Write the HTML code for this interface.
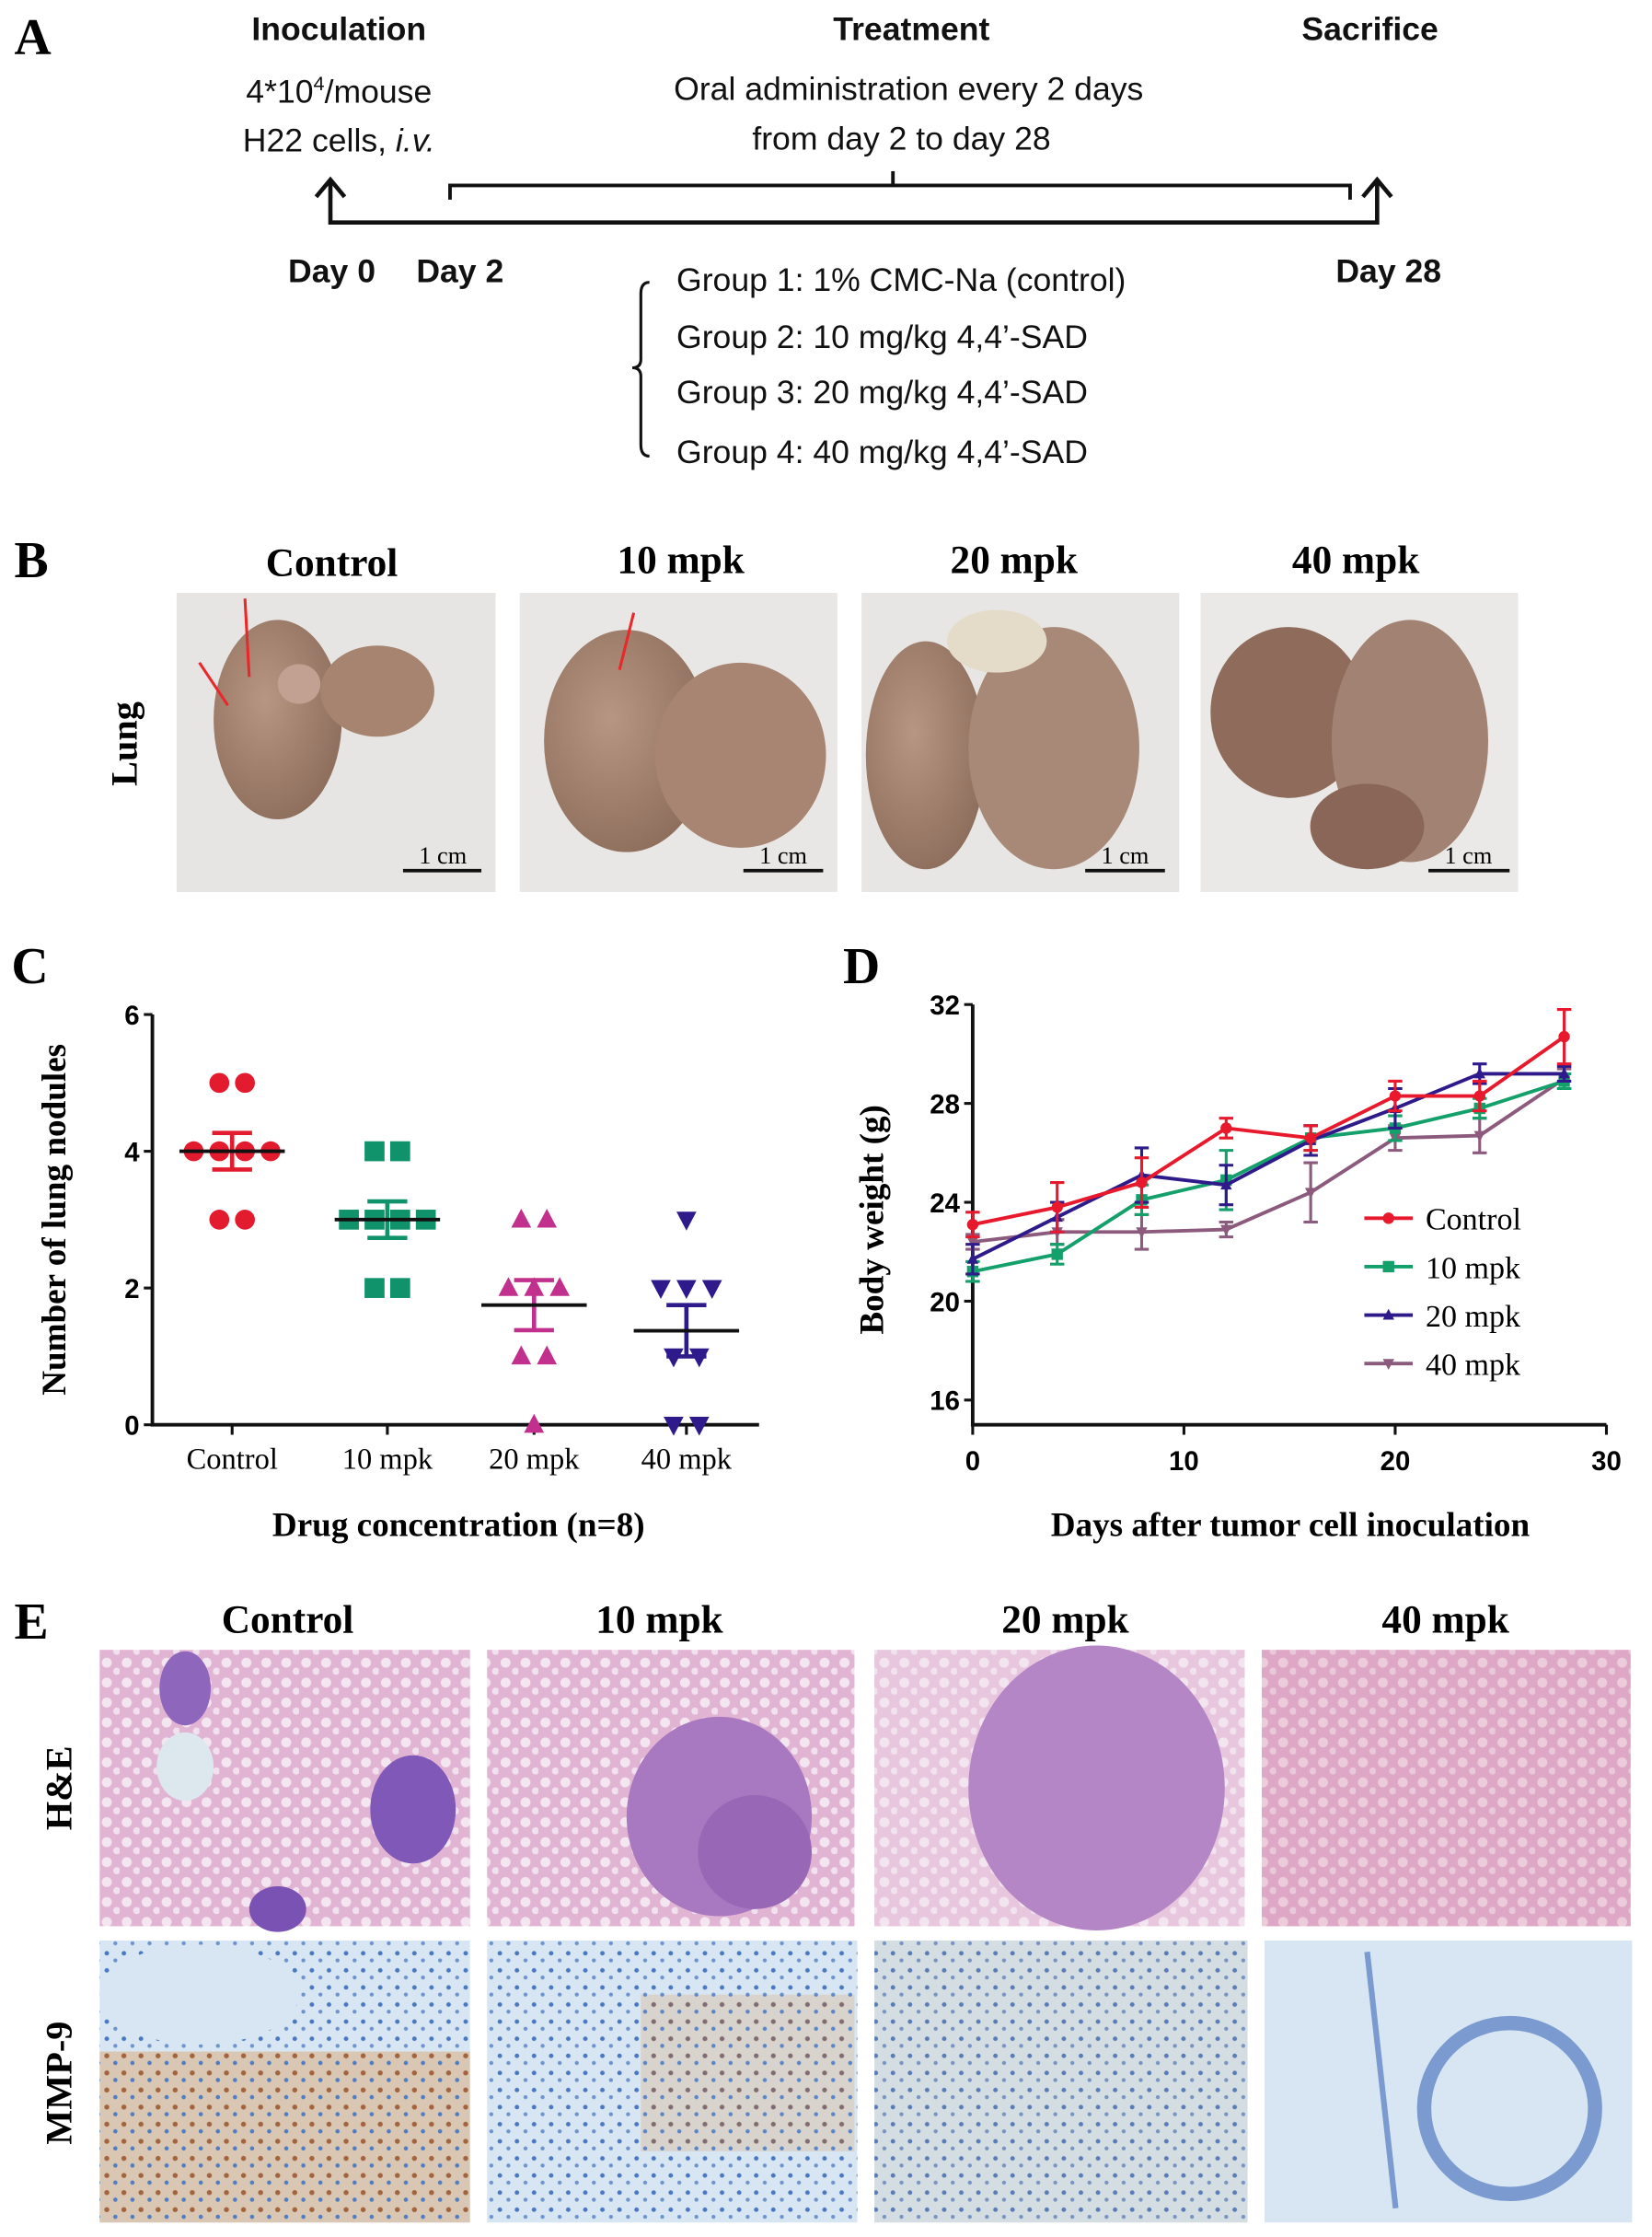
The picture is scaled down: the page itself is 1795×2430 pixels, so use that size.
<!DOCTYPE html>
<html><head><meta charset="utf-8"><style>
html,body{margin:0;padding:0;background:#fff}
svg{display:block}
.sans{font-family:"Liberation Sans","DejaVu Sans",sans-serif}
.serif{font-family:"Liberation Serif",serif}
</style></head><body>
<svg id="fig" width="1795" height="2430" viewBox="0 0 1160 1570" xmlns="http://www.w3.org/2000/svg">
<defs>
<radialGradient id="lungg" cx="0.4" cy="0.4" r="0.7"><stop offset="0" stop-color="#b89684"/><stop offset="1" stop-color="#8a6a58"/></radialGradient>
<pattern id="he" width="14" height="14" patternUnits="userSpaceOnUse"><rect width="14" height="14" fill="#e2b4d4"/><circle cx="5" cy="5" r="3.5" fill="#f4e6f0"/><circle cx="12" cy="11" r="2.5" fill="#f1e1ee"/></pattern>
<pattern id="mmp" width="12" height="12" patternUnits="userSpaceOnUse"><rect width="12" height="12" fill="#d7e6f2"/><circle cx="3" cy="3" r="1.6" fill="#4a78c0"/><circle cx="9" cy="8" r="1.4" fill="#6d92cc"/></pattern>
<pattern id="mmpb" width="12" height="12" patternUnits="userSpaceOnUse"><rect width="12" height="12" fill="#d9c2a8"/><circle cx="3" cy="3" r="1.8" fill="#b0602a"/><circle cx="9" cy="8" r="1.5" fill="#4a78c0"/></pattern>
</defs>

<!-- Panel A -->
<g>
<text x="10" y="38" class="serif" font-size="36" font-weight="bold">A</text>
<g class="sans" font-size="23" text-anchor="middle" fill="#111">
<text x="238" y="28" font-weight="bold">Inoculation</text>
<text x="238" y="72">4*10<tspan font-size="14" dy="-9">4</tspan><tspan dy="9">/mouse</tspan></text>
<text x="238" y="106">H22 cells, <tspan font-style="italic">i.v.</tspan></text>
<text x="640" y="28" font-weight="bold">Treatment</text>
<text x="638" y="70">Oral administration every 2 days</text>
<text x="633" y="105">from day 2 to day 28</text>
<text x="962" y="28" font-weight="bold">Sacrifice</text>
<text x="233" y="198" font-weight="bold">Day  0</text>
<text x="323" y="198" font-weight="bold">Day  2</text>
<text x="975" y="198" font-weight="bold">Day  28</text>
</g>
<g stroke="#111" stroke-width="3" fill="none">
<polyline points="232,127 232,156 967,156 967,127"/>
<polyline points="222,138 232,126 242,138"/>
<polyline points="957,138 967,126 977,138"/>
<polyline points="316,140 316,130 948,130 948,140" stroke-width="2.5"/>
<line x1="627" y1="130" x2="627" y2="120" stroke-width="2.5"/>
<path d="M456,198 Q450,198 450,206 L450,252 Q450,258 444,258 Q450,258 450,264 L450,312 Q450,320 456,320" stroke-width="2"/>
</g>
<g class="sans" font-size="23" fill="#111">
<text x="475" y="204">Group 1: 1% CMC-Na (control)</text>
<text x="475" y="244">Group 2: 10 mg/kg 4,4’-SAD</text>
<text x="475" y="283">Group 3: 20 mg/kg 4,4’-SAD</text>
<text x="475" y="325">Group 4: 40 mg/kg 4,4’-SAD</text>
</g>
</g>

<!-- Panel B -->
<g>
<text x="10" y="405" class="serif" font-size="36" font-weight="bold">B</text>
<g class="serif" font-size="28" font-weight="bold" text-anchor="middle">
<text x="233" y="404">Control</text>
<text x="478" y="402">10 mpk</text>
<text x="712" y="402">20 mpk</text>
<text x="952" y="402">40 mpk</text>
</g>
<text transform="translate(96,522) rotate(-90)" class="serif" font-size="26" font-weight="bold" text-anchor="middle">Lung</text>
<g><rect x="124" y="416" width="224" height="210" fill="#e7e5e3"/><ellipse cx="195" cy="505" rx="45" ry="70" fill="url(#lungg)"/><ellipse cx="265" cy="485" rx="40" ry="32" fill="#a68470"/><ellipse cx="210" cy="480" rx="15" ry="14" fill="#c3a192"/><line x1="172" y1="420" x2="175" y2="475" stroke="#e8282a" stroke-width="2"/><line x1="140" y1="465" x2="160" y2="495" stroke="#e8282a" stroke-width="2"/></g>
<g><rect x="365" y="416" width="223" height="210" fill="#e9e7e5"/><ellipse cx="440" cy="520" rx="58" ry="78" fill="url(#lungg)"/><ellipse cx="520" cy="530" rx="60" ry="65" fill="#a88572"/><line x1="445" y1="430" x2="435" y2="470" stroke="#e8282a" stroke-width="2"/></g>
<g><rect x="605" y="416" width="223" height="210" fill="#e8e6e4"/><ellipse cx="650" cy="530" rx="42" ry="80" fill="url(#lungg)"/><ellipse cx="740" cy="525" rx="60" ry="85" fill="#a88876"/><ellipse cx="700" cy="450" rx="35" ry="22" fill="#e4dcc8"/></g>
<g><rect x="843" y="416" width="223" height="210" fill="#ebe9e7"/><ellipse cx="905" cy="500" rx="55" ry="60" fill="#8e6b5a"/><ellipse cx="990" cy="520" rx="55" ry="85" fill="#a28272"/><ellipse cx="960" cy="580" rx="40" ry="30" fill="#8a6658"/></g>
<g stroke="#111" stroke-width="2.5">
<line x1="283" y1="611" x2="338" y2="611"/><line x1="522" y1="611" x2="578" y2="611"/><line x1="762" y1="611" x2="818" y2="611"/><line x1="1003" y1="611" x2="1060" y2="611"/>
</g>
<g class="serif" font-size="17" text-anchor="middle">
<text x="311" y="606">1 cm</text>
<text x="550" y="606">1 cm</text>
<text x="790" y="606">1 cm</text>
<text x="1031" y="606">1 cm</text>
</g>
</g>

<!-- Panel C -->
<g id="panelC">
<text x="8" y="690" class="serif" font-size="36" font-weight="bold">C</text>
<text transform="translate(46,856) rotate(-90)" class="serif" font-size="24" font-weight="bold" text-anchor="middle">Number of lung nodules</text>
<text x="322" y="1078" class="serif" font-size="24" font-weight="bold" text-anchor="middle">Drug concentration (n=8)</text>
</g>

<!-- Panel D -->
<g id="panelD">
<text x="592" y="690" class="serif" font-size="36" font-weight="bold">D</text>
<text transform="translate(620,856) rotate(-90)" class="serif" font-size="24" font-weight="bold" text-anchor="middle">Body weight (g)</text>
<text x="906" y="1078" class="serif" font-size="24" font-weight="bold" text-anchor="middle">Days after tumor cell inoculation</text>
</g>

<!-- Panel E -->
<g>
<text x="10" y="1150" class="serif" font-size="36" font-weight="bold">E</text>
<g class="serif" font-size="28" font-weight="bold" text-anchor="middle">
<text x="202" y="1146">Control</text>
<text x="463" y="1146">10 mpk</text>
<text x="748" y="1146">20 mpk</text>
<text x="1015" y="1146">40 mpk</text>
</g>
<text transform="translate(50,1255) rotate(-90)" class="serif" font-size="26" font-weight="bold" text-anchor="middle">H&amp;E</text>
<text transform="translate(50,1462) rotate(-90)" class="serif" font-size="26" font-weight="bold" text-anchor="middle">MMP-9</text>
<g><rect x="70" y="1158" width="260" height="194" fill="url(#he)"/><ellipse cx="290" cy="1270" rx="30" ry="38" fill="#7f58b8"/><ellipse cx="130" cy="1185" rx="18" ry="26" fill="#8e66bc"/><ellipse cx="195" cy="1340" rx="20" ry="16" fill="#7a52b4"/><ellipse cx="130" cy="1240" rx="20" ry="24" fill="#dce8ee"/></g>
<g><rect x="342" y="1158" width="258" height="194" fill="url(#he)"/><ellipse cx="505" cy="1275" rx="65" ry="70" fill="#a878c0"/><ellipse cx="530" cy="1300" rx="40" ry="40" fill="#9868b6"/></g>
<g><rect x="614" y="1158" width="260" height="194" fill="#f1e4ee"/><rect x="614" y="1158" width="260" height="194" fill="url(#he)" opacity="0.6"/><ellipse cx="770" cy="1255" rx="90" ry="100" fill="#b486c6"/></g>
<g><rect x="886" y="1158" width="259" height="194" fill="url(#he)"/><rect x="886" y="1158" width="259" height="194" fill="#d4809a" opacity="0.25"/></g>
<g><rect x="70" y="1362" width="260" height="198" fill="url(#mmp)"/><rect x="70" y="1440" width="260" height="120" fill="url(#mmpb)" opacity="0.85"/><ellipse cx="140" cy="1400" rx="70" ry="35" fill="#d7e6f2"/></g>
<g><rect x="342" y="1362" width="260" height="198" fill="url(#mmp)"/><rect x="450" y="1400" width="150" height="110" fill="url(#mmpb)" opacity="0.5"/></g>
<g><rect x="614" y="1362" width="262" height="198" fill="url(#mmp)"/><rect x="614" y="1362" width="262" height="198" fill="#c8a070" opacity="0.12"/></g>
<g><rect x="888" y="1362" width="258" height="198" fill="#d7e6f2"/><circle cx="1060" cy="1480" r="60" fill="none" stroke="#7a9ad0" stroke-width="10"/><line x1="960" y1="1370" x2="980" y2="1550" stroke="#7a9ad0" stroke-width="4"/></g>
</g>
</svg>
<script>
// ---- Panel C data ----
const cCategories = ["Control", "10 mpk", "20 mpk", "40 mpk"];
const cValsControl = [5, 5, 4, 4, 4, 4, 3, 3];
const cVals10 = [4, 4, 3, 3, 3, 3, 2, 2];
const cVals20 = [3, 3, 2, 2, 2, 1, 1, 0];
const cVals40 = [3, 2, 2, 2, 1, 1, 0, 0];
const cTicks = [0, 2, 4, 6];
// ---- Panel D data ----
const dDays = [0, 4, 8, 12, 16, 20, 24, 28];
const dControl = [23.1, 23.8, 24.8, 27.0, 26.6, 28.3, 28.3, 30.7];
const dControlErr = [0.5, 1.0, 1.0, 0.4, 0.5, 0.6, 0.6, 1.1];
const d10 = [21.2, 21.9, 24.1, 24.9, 26.6, 27.0, 27.8, 28.9];
const d10Err = [0.4, 0.4, 0.6, 1.2, 0.5, 0.5, 0.4, 0.3];
const d20 = [21.7, 23.4, 25.1, 24.7, 26.5, 27.8, 29.2, 29.2];
const d20Err = [0.6, 0.6, 1.1, 0.8, 0.6, 0.8, 0.4, 0.3];
const d40 = [22.4, 22.8, 22.8, 22.9, 24.4, 26.6, 26.7, 29.0];
const d40Err = [0.3, 0.5, 0.7, 0.3, 1.2, 0.5, 0.7, 0.4];
const dLegend = ["Control", "10 mpk", "20 mpk", "40 mpk"];
const dYTicks = [16, 20, 24, 28, 32];
const dXTicks = [0, 10, 20, 30];

const NS = "http://www.w3.org/2000/svg";
function mk(tag, attrs, parent) {
  const e = document.createElementNS(NS, tag);
  for (const k in attrs) e.setAttribute(k, attrs[k]);
  parent.appendChild(e);
  return e;
}
function marker(shape, x, y, s, color, parent) {
  let e;
  if (shape === "circle") e = mk("circle", {cx: x, cy: y, r: s, fill: color}, parent);
  else if (shape === "square") e = mk("rect", {x: x - s, y: y - s, width: 2 * s, height: 2 * s, fill: color}, parent);
  else if (shape === "tri") e = mk("polygon", {points: `${x},${y - s * 1.1} ${x - s},${y + s * 0.8} ${x + s},${y + s * 0.8}`, fill: color}, parent);
  else e = mk("polygon", {points: `${x},${y + s * 1.1} ${x - s},${y - s * 0.8} ${x + s},${y - s * 0.8}`, fill: color}, parent);
  return e;
}

// ---- Panel C ----
(function () {
  const g = document.getElementById("panelC");
  const x0 = 107, x1 = 533, yTop = 712, yBot = 1000;
  const ys = v => yBot - (v / 6) * (yBot - yTop);
  const catX = [163, 272, 375, 482];
  const xs = i => catX[i];
  const ax = mk("path", {d: `M${x0},${yTop} L${x0},${yBot} L${x1},${yBot}`, stroke: "#111", "stroke-width": 2.5, fill: "none"}, g);
  
  
  cTicks.forEach(t => {
    mk("line", {x1: x0 - 6, x2: x0, y1: ys(t), y2: ys(t), stroke: "#111", "stroke-width": 2}, g);
    const tl = mk("text", {x: x0 - 9, y: ys(t) + 7, "text-anchor": "end", "font-size": 19, "font-weight": "bold", class: "sans"}, g);
    tl.textContent = t;
    
    
  });
  const groups = [cValsControl, cVals10, cVals20, cVals40];
  const colors = ["#e31b2f", "#10936a", "#c0308c", "#2e1a8a"];
  const shapes = ["circle", "square", "tri", "inv"];
  groups.forEach((vals, i) => {
    const cx = xs(i);
    mk("line", {x1: cx, x2: cx, y1: yBot, y2: yBot + 7, stroke: "#111", "stroke-width": 2}, g);
    const lab = mk("text", {x: cx, y: yBot + 31, "text-anchor": "middle", "font-size": 21, class: "serif"}, g);
    lab.textContent = cCategories[i];
    
    
    const counts = {};
    vals.forEach(v => counts[v] = (counts[v] || 0) + 1);
    const seen = {};
    vals.forEach(v => {
      const n = counts[v]; const k = seen[v] = (seen[v] || 0) + 1;
      const off = (k - (n + 1) / 2) * 18;
      const m = marker(shapes[i], cx + off, ys(v), 7, colors[i], g);
      
      
    });
    const mean = vals.reduce((a, b) => a + b, 0) / vals.length;
    const sd = Math.sqrt(vals.reduce((a, b) => a + (b - mean) ** 2, 0) / (vals.length - 1));
    const sem = sd / Math.sqrt(vals.length);
    const eb = mk("path", {d: `M${cx},${ys(mean + sem)} L${cx},${ys(mean - sem)} M${cx - 14},${ys(mean + sem)} L${cx + 14},${ys(mean + sem)} M${cx - 14},${ys(mean - sem)} L${cx + 14},${ys(mean - sem)}`, stroke: colors[i], "stroke-width": 3, fill: "none"}, g);
    
    
    const ml = mk("line", {x1: cx - 37, x2: cx + 37, y1: ys(mean), y2: ys(mean), stroke: "#111", "stroke-width": 2.5}, g);
    
    
  });
})();

// ---- Panel D ----
(function () {
  const g = document.getElementById("panelD");
  const x0 = 683, x1 = 1128, yBot = 1000, yTop = 705;
  const yMin = 15, yMax = 32;
  const xs = d => x0 + (d / 30) * (x1 - x0);
  const ys = v => yBot - (v - yMin) / (yMax - yMin) * (yBot - yTop);
  const ax = mk("path", {d: `M${x0},${yTop} L${x0},${yBot} L${x1},${yBot}`, stroke: "#111", "stroke-width": 2.5, fill: "none"}, g);
  
  
  dYTicks.forEach(t => {
    mk("line", {x1: x0 - 6, x2: x0, y1: ys(t), y2: ys(t), stroke: "#111", "stroke-width": 2}, g);
    const tl = mk("text", {x: x0 - 9, y: ys(t) + 7, "text-anchor": "end", "font-size": 19, "font-weight": "bold", class: "sans"}, g);
    tl.textContent = t;
    
    
  });
  dXTicks.forEach(t => {
    mk("line", {x1: xs(t), x2: xs(t), y1: yBot, y2: yBot + 7, stroke: "#111", "stroke-width": 2}, g);
    const tl = mk("text", {x: xs(t), y: yBot + 32, "text-anchor": "middle", "font-size": 19, "font-weight": "bold", class: "sans"}, g);
    tl.textContent = t;
    
    
  });
  const series = [[dControl, dControlErr], [d10, d10Err], [d20, d20Err], [d40, d40Err]];
  const colors = ["#e8192c", "#14a06a", "#2e1a8a", "#8c5a7c"];
  const shapes = ["circle", "square", "tri", "inv"];
  [3, 1, 2, 0].forEach(i => {
    const [vals, errs] = series[i];
    const sg = mk("g", {}, g);
    
    
    vals.forEach((v, j) => {
      const x = xs(dDays[j]);
      mk("path", {d: `M${x},${ys(v - errs[j])} L${x},${ys(v + errs[j])} M${x - 5},${ys(v - errs[j])} L${x + 5},${ys(v - errs[j])} M${x - 5},${ys(v + errs[j])} L${x + 5},${ys(v + errs[j])}`, stroke: colors[i], "stroke-width": 2, fill: "none"}, sg);
    });
    mk("polyline", {points: vals.map((v, j) => `${xs(dDays[j])},${ys(v)}`).join(" "), stroke: colors[i], "stroke-width": 2.5, fill: "none"}, sg);
    vals.forEach((v, j) => marker(shapes[i], xs(dDays[j]), ys(v), 4, colors[i], sg));
  });
  dLegend.forEach((name, i) => {
    const y = 855 + i * 34;
    const lg = mk("g", {}, g);
    
    
    mk("line", {x1: 958, x2: 992, y1: y, y2: y, stroke: colors[i], "stroke-width": 2.5}, lg);
    marker(shapes[i], 975, y, 4, colors[i], lg);
    const t = mk("text", {x: 1001, y: y + 8, "font-size": 22, class: "serif"}, lg);
    t.textContent = name;
  });
})();
</script>
</body></html>
